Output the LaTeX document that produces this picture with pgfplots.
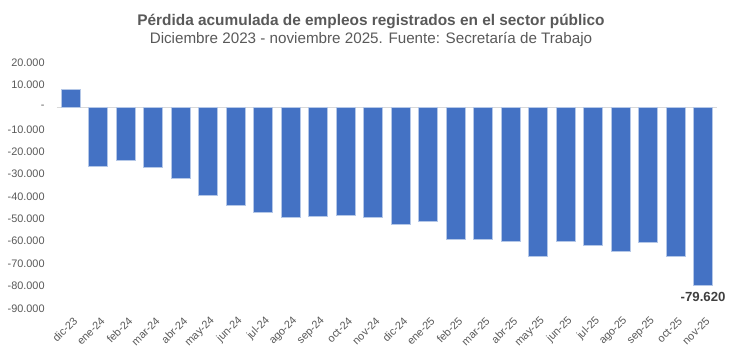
\documentclass[border=0pt]{standalone}
\usepackage{pgfplots}
\pgfplotsset{compat=1.18}
\usepackage{fontspec}
\setmainfont{Liberation Sans}
\definecolor{barblue}{HTML}{4472C4}
\definecolor{baredge}{HTML}{B4C7E7}
\definecolor{txtgray}{HTML}{595959}
\definecolor{zerogray}{HTML}{D9D9D9}
\begin{document}
\begin{tikzpicture}
\begin{axis}[
  at={(0,0)}, anchor=south west,
  scale only axis, width=660pt, height=246pt,
  xmin=-0.5, xmax=23.5, ymin=-90000, ymax=20000,
  axis line style={draw=none},
  tick style={draw=none},
  scaled y ticks=false,
  xtick={0,...,23},
  xticklabels={dic-23,ene-24,feb-24,mar-24,abr-24,may-24,jun-24,jul-24,ago-24,sep-24,oct-24,nov-24,dic-24,ene-25,feb-25,mar-25,abr-25,may-25,jun-25,jul-25,ago-25,sep-25,oct-25,nov-25},
  xticklabel style={rotate=45, anchor=east, font=\fontsize{10.9}{12}\selectfont, text=txtgray, inner sep=1pt, yshift=-8pt},
  ytick={-90000,-80000,-70000,-60000,-50000,-40000,-30000,-20000,-10000,0,10000,20000},
  yticklabels={-90.000,-80.000,-70.000,-60.000,-50.000,-40.000,-30.000,-20.000,-10.000,-,10.000,20.000},
  yticklabel style={font=\fontsize{10.9}{12}\selectfont, text=txtgray, anchor=east, inner sep=0pt, xshift=-12pt},
  extra y ticks={0}, extra y tick labels={},
  extra y tick style={grid=major, major grid style={zerogray, line width=0.8pt}},
  ybar, bar width=18.7pt,
  clip=false,
]
\addplot[fill=barblue, draw=baredge, line width=0.5pt] coordinates {
(0,8000) (1,-26600) (2,-23900) (3,-26900) (4,-31700) (5,-39400)
(6,-43900) (7,-46900) (8,-49400) (9,-48800) (10,-48200) (11,-49400)
(12,-52400) (13,-51000) (14,-59100) (15,-59100) (16,-60200) (17,-66600)
(18,-60200) (19,-61700) (20,-64500) (21,-60600) (22,-66900) (23,-79620)
};
\node[anchor=north, font=\fontsize{13.2}{15}\selectfont\bfseries, text={rgb,255:red,64;green,64;blue,64}, inner sep=0pt] at (axis cs:23,-79620) [yshift=-7pt] {-79.620};
\end{axis}
\node[anchor=base, font=\fontsize{15.4}{17}\selectfont\bfseries, text=txtgray, inner sep=0pt] at (314.2pt,282.3pt) {Pérdida acumulada de empleos registrados en el sector público};
\node[anchor=base, font=\fontsize{15.2}{17}\selectfont, text=txtgray, inner sep=0pt] at (314.2pt,264.3pt) {Diciembre 2023 - noviembre 2025. Fuente: Secretaría de Trabajo};
\pgfresetboundingbox
\path[use as bounding box] (-56.8pt,-47.7pt) rectangle (673.2pt,308.3pt);
\end{tikzpicture}
\end{document}
